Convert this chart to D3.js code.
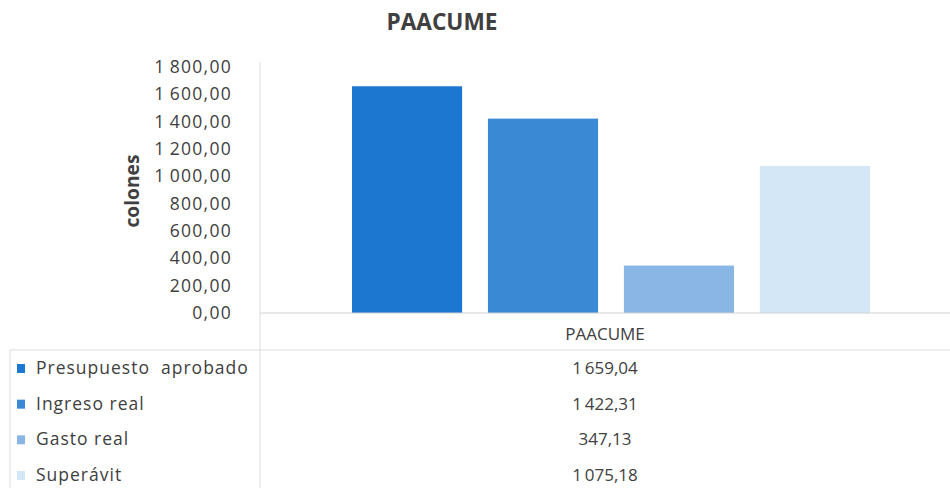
<!DOCTYPE html>
<html><head><meta charset="utf-8">
<script src="https://cdn.jsdelivr.net/npm/d3@7/dist/d3.min.js"></script>
<style>
body{margin:0;background:#fff;}
text{font-family:"Open Sans",sans-serif;fill:#404040;white-space:pre;}
</style></head>
<body><svg id="c" width="950" height="488"></svg>
<script>
const title = "PAACUME";
const category = "PAACUME";
const seriesNames = ["Presupuesto  aprobado", "Ingreso real", "Gasto real", "Superávit"];
const seriesValues = [1659.04, 1422.31, 347.13, 1075.18];
const seriesColors = ["#1b77cf", "#3a89d5", "#8ab6e5", "#d4e7f6"];
const yTicks = [0, 200, 400, 600, 800, 1000, 1200, 1400, 1600, 1800];
const yLabel = "colones";

(function () {
const loc = d3.formatLocale({decimal: ",", thousands: "\u2009", grouping: [3], currency: ["", ""]});
const fmt = loc.format(",.2f");

const svg = d3.select("#c");
const pLeft = 260, pRight = 950, pTop = 67, pBottom = 313;

const y = d3.scaleLinear().domain([0, 1800]).range([pBottom, pTop]);
const x0 = d3.scaleBand().domain([category]).range([pLeft, pRight]).paddingInner(0).paddingOuter(0.125);
const off = x0(category);
const x1 = d3.scaleBand().domain(seriesNames).range([352 - off, 870 - off]).paddingInner(0.19);

svg.append("text").attr("x", 442).attr("y", 30).attr("text-anchor", "middle")
  .attr("textLength", 111).attr("lengthAdjust", "spacingAndGlyphs")
  .style("font-size", "24px").style("font-weight", "bold").text(title);

svg.append("text").attr("transform", "translate(139,191) rotate(-90)").attr("text-anchor", "middle")
  .attr("textLength", 73).attr("lengthAdjust", "spacingAndGlyphs")
  .style("font-size", "19px").style("font-weight", "bold").text(yLabel);

const yAxis = d3.axisLeft(y).tickValues(yTicks).tickFormat(d => fmt(d)).tickSize(0).tickPadding(28);
const ga = svg.append("g").attr("transform", `translate(${pLeft},0)`).call(yAxis);
ga.select(".domain").remove();
ga.selectAll("text").style("font-size", "17.5px").style("letter-spacing", "1.3px")
  .attr("font-family", null).attr("fill", "#404040");

const g = svg.append("g").attr("transform", `translate(${off},0)`);
g.selectAll("rect").data(seriesValues).join("rect")
  .attr("x", (d, i) => x1(seriesNames[i]))
  .attr("width", x1.bandwidth())
  .attr("y", d => y(d))
  .attr("height", d => y(0) - y(d))
  .attr("fill", (d, i) => seriesColors[i]);

svg.append("line").attr("x1", pLeft).attr("x2", pRight).attr("y1", y(0)).attr("y2", y(0)).attr("stroke", "#d0d0d0");
svg.append("line").attr("x1", pLeft).attr("x2", pLeft).attr("y1", 62).attr("y2", 488).attr("stroke", "#dcdcdc");
svg.append("line").attr("x1", 10).attr("x2", pRight).attr("y1", 350).attr("y2", 350).attr("stroke", "#dcdcdc");
svg.append("line").attr("x1", 10).attr("x2", 10).attr("y1", 350).attr("y2", 488).attr("stroke", "#dcdcdc");

const cx = off + x0.bandwidth() / 2;
svg.append("text").attr("x", cx).attr("y", 340).attr("text-anchor", "middle")
  .style("font-size", "17px").text(category);

const rowY = d3.scalePoint().domain(seriesNames).range([368, 475]);
const rows = svg.append("g").selectAll("g").data(seriesNames).join("g")
  .attr("transform", d => `translate(0,${rowY(d)})`);
rows.append("rect").attr("x", 17).attr("y", -4).attr("width", 8).attr("height", 9)
  .attr("fill", (d, i) => seriesColors[i]);
rows.append("text").attr("x", 36).attr("y", 6).style("font-size", "17.5px").style("letter-spacing", "1px").text(d => d);
rows.append("text").attr("x", cx).attr("y", 6).attr("text-anchor", "middle")
  .style("font-size", "17px").text((d, i) => fmt(seriesValues[i]));
})();
</script></body></html>
